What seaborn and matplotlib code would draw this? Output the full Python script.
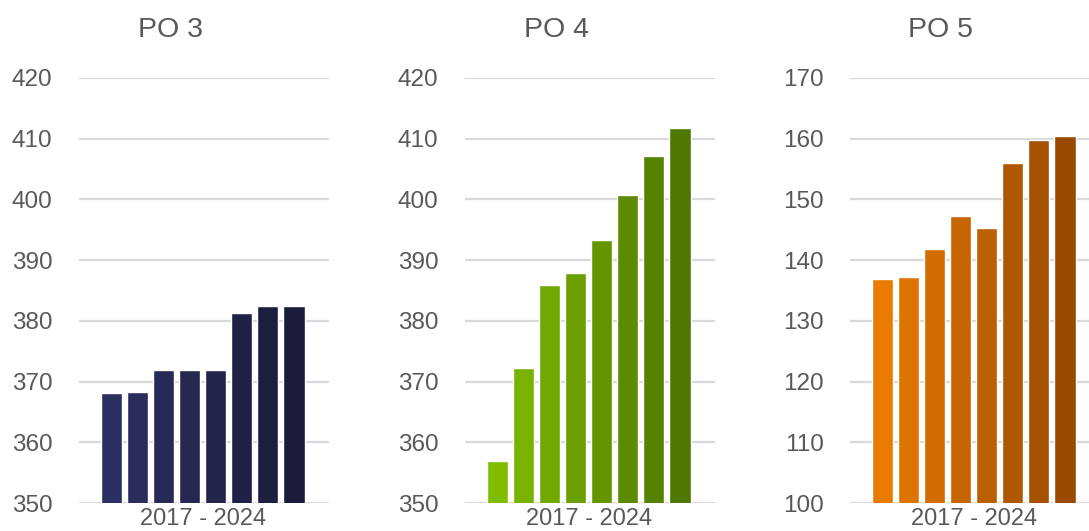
import matplotlib
matplotlib.use("Agg")
import matplotlib.pyplot as plt
import matplotlib.colors as mcolors
import numpy as np
import pandas as pd
import seaborn as sns

years = ["2017", "2018", "2019", "2020", "2021", "2022", "2023", "2024"]
po3 = [368.1, 368.3, 371.9, 371.9, 371.9, 381.3, 382.5, 382.5]
po4 = [356.9, 372.2, 385.9, 387.9, 393.3, 400.7, 407.2, 411.8]
po5 = [136.9, 137.2, 141.8, 147.3, 145.3, 156.0, 159.8, 160.5]

titles = ["PO 3", "PO 4", "PO 5"]
limits = [(350, 420), (350, 420), (100, 170)]
ends = [("#2c2f62", "#1b1c3b"), ("#80bc00", "#4f7800"), ("#ea7a00", "#994a00")]

sns.set_theme(style="white")
plt.rcParams["font.family"] = ["Liberation Sans", "DejaVu Sans"]
text_col = "#595959"

fig = plt.figure(figsize=(10.89, 5.31), dpi=100)
lefts = [79, 465, 850]
width = 250

for i, vals in enumerate([po3, po4, po5]):
    ax = fig.add_axes([lefts[i] / 1089, 28 / 531, width / 1089, 425 / 531])
    df = pd.DataFrame({"year": years, "value": vals})
    cmap = mcolors.LinearSegmentedColormap.from_list("g", ends[i])
    pal = [cmap(t) for t in np.linspace(0, 1, len(years))]
    sns.barplot(data=df, x="year", y="value", hue="year", palette=pal,
                legend=False, width=0.82, saturation=1, ax=ax)
    lo, hi = limits[i]
    ax.set_ylim(lo, hi)
    ax.set_yticks(range(lo, hi + 1, 10))
    ax.set_xlim(-1.25, 8.35)
    ax.set_xticks([])
    ax.set_xlabel("")
    ax.set_ylabel("")
    ax.yaxis.grid(True, color="#d9d9d9", linewidth=1.6)
    ax.set_axisbelow(True)
    for s in ax.spines.values():
        s.set_visible(False)
    ax.tick_params(axis="y", length=0, pad=19, labelsize=17.5, labelcolor=text_col)
    ax.text(3.5, -5 / 425, "2017 - 2024", transform=ax.get_xaxis_transform(),
            ha="center", va="top", fontsize=17, color=text_col, clip_on=False)
    fig.text((lefts[i] + 91) / 1089, 1 - 30 / 531, titles[i], ha="center", va="center",
             fontsize=20.5, color=text_col)

fig.savefig("out.png", dpi=100)
